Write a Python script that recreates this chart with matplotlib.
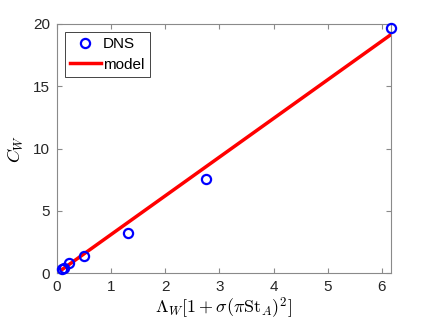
import matplotlib
matplotlib.use("Agg")
import matplotlib.pyplot as plt

# DNS data points
x_dns = [0.09, 0.12, 0.23, 0.49, 1.32, 2.76, 6.17]
c_dns = [0.30, 0.45, 0.78, 1.40, 3.19, 7.55, 19.7]

# linear model fit
x_model = [0.09, 6.17]
c_model = [0.28, 19.15]

plt.rcParams['font.family'] = ['Liberation Sans', 'DejaVu Sans']
plt.rcParams['mathtext.fontset'] = 'cm'

fig = plt.figure(figsize=(4.32, 3.24), dpi=100)
ax = fig.add_axes([0.132, 0.157, 0.773, 0.769])

ax.plot(x_dns, c_dns, 'o', mfc='none', mec='#0000ff', mew=1.6, ms=6.6,
        label='DNS', clip_on=False, zorder=4)
ax.plot(x_model, c_model, '-', color='#ff0000', lw=2.5, label='model', zorder=3)

ax.set_xlim(0, 6.17)
ax.set_ylim(0, 20)
ax.set_xticks(range(0, 7))
ax.set_yticks([0, 5, 10, 15, 20])

ax.set_xlabel(r'$\Lambda_W[1+\sigma(\pi\mathrm{St}_A)^2]$', fontsize=13, labelpad=1)
ax.set_ylabel(r'$C_W$', fontsize=13, labelpad=5)

axis_gray = '#8a8a8a'
for s in ax.spines.values():
    s.set_color(axis_gray)
    s.set_linewidth(0.8)
ax.tick_params(direction='in', top=True, right=True, labelsize=11,
               colors=axis_gray, length=3.5, width=0.8, pad=5)
for lbl in ax.get_xticklabels() + ax.get_yticklabels():
    lbl.set_color('#262626')

leg = ax.legend(loc='upper left', fontsize=11, fancybox=False, framealpha=1,
                edgecolor='#262626', handlelength=2.0, borderaxespad=0.5,
                handletextpad=0.15, borderpad=0.35, labelspacing=0.45)
leg.get_frame().set_linewidth(0.6)

fig.savefig('out.png', dpi=100)
